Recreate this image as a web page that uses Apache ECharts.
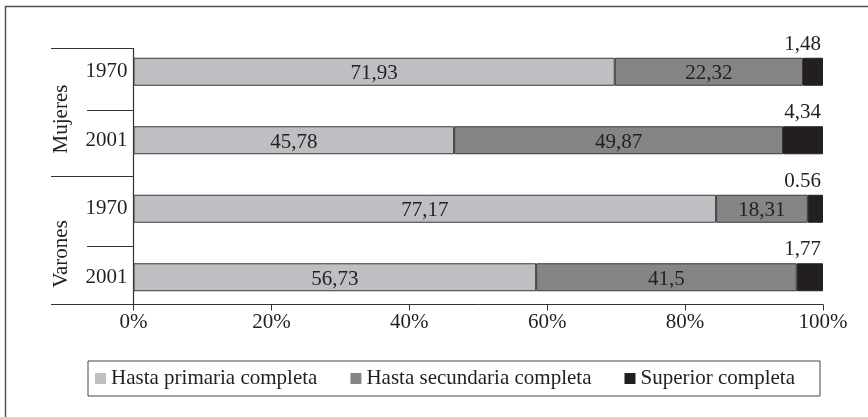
<!DOCTYPE html>
<html><head><meta charset="utf-8">
<script src="https://cdn.jsdelivr.net/npm/echarts@6/dist/echarts.min.js"></script>
<style>html,body{margin:0;padding:0;background:#fff}#c{width:868px;height:417px}</style>
</head><body><div id="c"></div>
<script>
const groups = ['Mujeres', 'Varones'];
const rowGroups = ['Mujeres', 'Mujeres', 'Varones', 'Varones'];
const years = ['1970', '2001', '1970', '2001'];
const seriesNames = ['Hasta primaria completa', 'Hasta secundaria completa', 'Superior completa'];
// segment lengths as drawn (% of bar)
const primaria = [69.8, 46.5, 84.5, 58.4];
const secundaria = [27.3, 47.7, 13.3, 37.8];
const superior = [2.9, 5.8, 2.2, 3.8];
// printed labels
const primariaLabels = ['71,93', '45,78', '77,17', '56,73'];
const secundariaLabels = ['22,32', '49,87', '18,31', '41,5'];
const superiorLabels = ['1,48', '4,34', '0.56', '1,77'];
const xTickSuffix = '%';

const FONT = 'Liberation Serif';
const FS = 21;
const TXT = '#231f20';
const LINE = '#333';
const cats = rowGroups.map((g, i) => g + ' ' + years[i]);

const chart = echarts.init(document.getElementById('c'), null, {renderer: 'canvas'});
const barBorder = {borderColor: '#3a3a3a', borderWidth: 1};
chart.setOption({
  animation: false,
  backgroundColor: '#fff',
  textStyle: {fontFamily: FONT, color: TXT},
  grid: [
    {left: 133.5, right: 45, top: 37.5, height: 274, containLabel: false},
    {left: 133.5, right: 45, top: 51.5, height: 270, containLabel: false}
  ],
  xAxis: [
    {type: 'value', gridIndex: 0, min: 0, max: 100, interval: 20, offset: -7,
     axisLine: {show: true, lineStyle: {color: LINE, width: 1}},
     axisTick: {show: true, length: 6, lineStyle: {color: LINE}},
     splitLine: {show: false},
     axisLabel: {formatter: v => v + xTickSuffix, fontFamily: FONT, fontSize: FS, color: TXT, margin: 7}},
    {type: 'value', gridIndex: 1, show: false, min: 0, max: 100}
  ],
  yAxis: [
    {type: 'category', gridIndex: 0, data: cats, inverse: true,
     axisLine: {show: false}, axisTick: {show: false},
     axisLabel: {formatter: v => v.split(' ')[1], fontFamily: FONT, fontSize: FS, color: TXT, margin: 6}},
    {type: 'category', gridIndex: 1, data: groups, inverse: true,
     axisLine: {show: false}, axisTick: {show: false},
     axisLabel: {rotate: 90, fontFamily: FONT, fontSize: FS, color: TXT, margin: 62}}
  ],
  legend: {
    data: seriesNames, left: 88, top: 361, orient: 'horizontal',
    selectedMode: false, icon: 'rect', itemWidth: 11, itemHeight: 11, itemGap: 33,
    padding: [7, 25, 7, 7], borderColor: '#444', borderWidth: 1,
    itemStyle: {borderWidth: 0},
    textStyle: {fontFamily: FONT, fontSize: FS, color: TXT}
  },
  series: [
    {name: seriesNames[0], type: 'bar', stack: 'a', barWidth: 28, data: primaria,
     itemStyle: Object.assign({color: '#bebfc2'}, barBorder),
     label: {show: true, position: 'inside', fontFamily: FONT, fontSize: FS, color: TXT, offset: [0, 2],
             formatter: p => primariaLabels[p.dataIndex]}},
    {name: seriesNames[1], type: 'bar', stack: 'a', barWidth: 28, data: secundaria,
     itemStyle: Object.assign({color: '#858585'}, barBorder),
     label: {show: true, position: 'inside', fontFamily: FONT, fontSize: FS, color: TXT, offset: [0, 2],
             formatter: p => secundariaLabels[p.dataIndex]}},
    {name: seriesNames[2], type: 'bar', stack: 'a', barWidth: 28, data: superior,
     itemStyle: {color: '#231f20', borderColor: '#231f20', borderWidth: 1},
     label: {show: true, position: ['100%', 0], align: 'right', verticalAlign: 'bottom',
             offset: [-2, -3], fontFamily: FONT, fontSize: FS, color: TXT,
             formatter: p => superiorLabels[p.dataIndex]}}
  ],
  graphic: [
    {type: 'polyline', shape: {points: [[5.5, 417], [5.5, 6.5], [868, 6.5]]}, style: {stroke: '#555', lineWidth: 1.5, fill: null}, silent: true},
    {type: 'polyline', shape: {points: [[51, 48.5], [133.5, 48.5], [133.5, 304.5]]}, style: {stroke: LINE, lineWidth: 1.2, fill: null}, silent: true},
    {type: 'line', shape: {x1: 87, y1: 110.5, x2: 133.5, y2: 110.5}, style: {stroke: LINE, lineWidth: 1.2}, silent: true},
    {type: 'line', shape: {x1: 51, y1: 176.5, x2: 133.5, y2: 176.5}, style: {stroke: LINE, lineWidth: 1.2}, silent: true},
    {type: 'line', shape: {x1: 87, y1: 246.5, x2: 133.5, y2: 246.5}, style: {stroke: LINE, lineWidth: 1.2}, silent: true},
    {type: 'line', shape: {x1: 51, y1: 304.5, x2: 133.5, y2: 304.5}, style: {stroke: LINE, lineWidth: 1}, silent: true}
  ]
});
</script></body></html>
